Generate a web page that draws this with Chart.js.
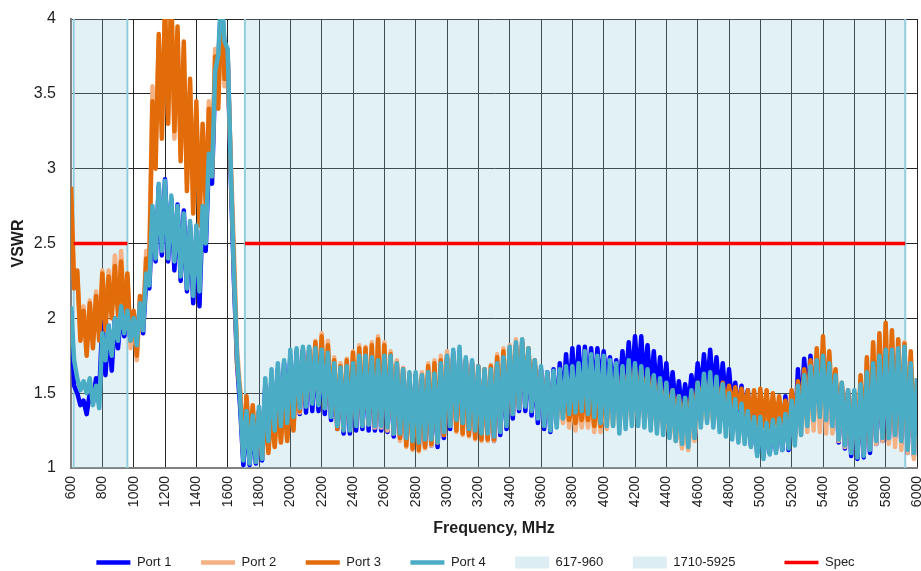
<!DOCTYPE html>
<html>
<head>
<meta charset="utf-8">
<script src="https://cdn.jsdelivr.net/npm/chart.js@4.4.1/dist/chart.umd.min.js"></script>
<style>
html,body{margin:0;padding:0;background:#fff;}
#wrap{width:921px;height:571px;}
</style>
</head>
<body>
<div id="wrap"><canvas id="c" width="921" height="571"></canvas></div>
<script>
// ---------- DATA ----------
const freq = [
600,620,640,660,680,700,720,740,760,780,
800,820,840,860,880,900,920,940,960,980,
1000,1020,1040,1060,1080,1100,1120,1140,1160,1180,
1200,1220,1240,1260,1280,1300,1320,1340,1360,1380,
1400,1420,1440,1460,1480,1500,1520,1540,1560,1580,
1600,1620,1640,1660,1680,1700,1720,1740,1760,1780,
1800,1820,1840,1860,1880,1900,1920,1940,1960,1980,
2000,2020,2040,2060,2080,2100,2120,2140,2160,2180,
2200,2220,2240,2260,2280,2300,2320,2340,2360,2380,
2400,2420,2440,2460,2480,2500,2520,2540,2560,2580,
2600,2620,2640,2660,2680,2700,2720,2740,2760,2780,
2800,2820,2840,2860,2880,2900,2920,2940,2960,2980,
3000,3020,3040,3060,3080,3100,3120,3140,3160,3180,
3200,3220,3240,3260,3280,3300,3320,3340,3360,3380,
3400,3420,3440,3460,3480,3500,3520,3540,3560,3580,
3600,3620,3640,3660,3680,3700,3720,3740,3760,3780,
3800,3820,3840,3860,3880,3900,3920,3940,3960,3980,
4000,4020,4040,4060,4080,4100,4120,4140,4160,4180,
4200,4220,4240,4260,4280,4300,4320,4340,4360,4380,
4400,4420,4440,4460,4480,4500,4520,4540,4560,4580,
4600,4620,4640,4660,4680,4700,4720,4740,4760,4780,
4800,4820,4840,4860,4880,4900,4920,4940,4960,4980,
5000,5020,5040,5060,5080,5100,5120,5140,5160,5180,
5200,5220,5240,5260,5280,5300,5320,5340,5360,5380,
5400,5420,5440,5460,5480,5500,5520,5540,5560,5580,
5600,5620,5640,5660,5680,5700,5720,5740,5760,5780,
5800,5820,5840,5860,5880,5900,5920,5940,5960,5980,
6000];

const port1 = [
2.05,1.55,1.50,1.42,1.45,1.36,1.50,1.44,1.60,1.50,
1.98,1.62,1.95,1.65,2.00,1.80,2.05,1.88,2.05,1.85,
2.02,1.80,2.10,1.90,2.25,2.20,2.70,2.38,2.88,2.42,
2.93,2.38,2.80,2.32,2.76,2.25,2.72,2.18,2.62,2.10,
2.58,2.08,2.70,2.45,3.05,2.90,3.60,3.70,4.15,3.80,
3.75,2.95,2.25,1.70,1.40,1.02,1.35,1.02,1.30,1.03,
1.38,1.05,1.55,1.15,1.62,1.22,1.66,1.26,1.70,1.28,
1.75,1.32,1.78,1.36,1.79,1.37,1.79,1.38,1.78,1.38,
1.77,1.36,1.74,1.32,1.68,1.26,1.65,1.23,1.66,1.23,
1.68,1.25,1.72,1.26,1.73,1.25,1.72,1.25,1.70,1.25,
1.72,1.24,1.72,1.21,1.68,1.20,1.64,1.18,1.62,1.16,
1.62,1.15,1.60,1.15,1.62,1.15,1.62,1.14,1.68,1.20,
1.73,1.26,1.77,1.28,1.78,1.25,1.72,1.24,1.70,1.22,
1.66,1.21,1.64,1.20,1.64,1.18,1.68,1.22,1.72,1.26,
1.78,1.33,1.82,1.38,1.84,1.38,1.78,1.35,1.70,1.30,
1.66,1.26,1.64,1.24,1.66,1.30,1.70,1.40,1.76,1.45,
1.80,1.48,1.81,1.50,1.81,1.50,1.80,1.48,1.80,1.52,
1.78,1.55,1.74,1.52,1.72,1.52,1.78,1.55,1.84,1.56,
1.88,1.57,1.88,1.55,1.82,1.52,1.78,1.48,1.74,1.46,
1.70,1.42,1.64,1.40,1.58,1.38,1.56,1.40,1.62,1.45,
1.70,1.50,1.76,1.52,1.79,1.50,1.74,1.48,1.70,1.45,
1.66,1.42,1.57,1.36,1.55,1.30,1.52,1.15,1.45,1.10,
1.34,1.08,1.32,1.10,1.34,1.12,1.38,1.12,1.48,1.12,
1.50,1.20,1.66,1.35,1.73,1.42,1.75,1.40,1.72,1.35,
1.70,1.30,1.66,1.26,1.60,1.17,1.55,1.13,1.50,1.08,
1.50,1.06,1.54,1.07,1.62,1.10,1.68,1.16,1.72,1.18,
1.76,1.18,1.76,1.20,1.77,1.16,1.78,1.10,1.68,1.08,
1.55];

const port2 = [
2.85,2.25,2.30,1.90,2.08,1.80,2.12,1.85,2.18,1.90,
2.32,1.95,2.32,2.05,2.42,2.08,2.45,2.05,2.28,1.80,
2.00,1.72,2.10,1.98,2.45,2.45,3.55,3.15,3.85,3.30,
4.05,3.35,4.15,3.20,3.90,3.10,3.80,2.90,3.55,2.75,
3.40,2.68,3.25,2.82,3.45,3.00,3.80,3.45,4.10,3.55,
3.72,3.05,2.45,1.80,1.52,1.10,1.45,1.12,1.40,1.08,
1.36,1.07,1.38,1.12,1.41,1.15,1.44,1.18,1.47,1.20,
1.53,1.27,1.64,1.37,1.74,1.44,1.79,1.46,1.85,1.44,
1.90,1.40,1.85,1.37,1.74,1.27,1.70,1.27,1.73,1.30,
1.78,1.31,1.82,1.29,1.81,1.29,1.84,1.27,1.88,1.27,
1.84,1.25,1.78,1.23,1.72,1.18,1.67,1.14,1.63,1.12,
1.60,1.11,1.64,1.13,1.70,1.15,1.72,1.17,1.75,1.22,
1.78,1.28,1.76,1.24,1.74,1.22,1.72,1.21,1.70,1.19,
1.68,1.18,1.66,1.18,1.69,1.18,1.76,1.25,1.80,1.31,
1.82,1.36,1.86,1.40,1.86,1.44,1.80,1.40,1.70,1.36,
1.62,1.32,1.60,1.30,1.56,1.31,1.50,1.30,1.46,1.27,
1.45,1.25,1.46,1.27,1.47,1.27,1.46,1.24,1.47,1.24,
1.48,1.26,1.50,1.28,1.52,1.28,1.52,1.30,1.50,1.33,
1.48,1.33,1.46,1.32,1.44,1.30,1.42,1.28,1.40,1.26,
1.38,1.22,1.34,1.18,1.30,1.13,1.28,1.12,1.34,1.18,
1.42,1.30,1.45,1.32,1.44,1.30,1.45,1.30,1.44,1.28,
1.42,1.25,1.40,1.22,1.38,1.20,1.36,1.18,1.34,1.15,
1.34,1.14,1.32,1.15,1.34,1.17,1.35,1.18,1.36,1.16,
1.42,1.18,1.50,1.22,1.58,1.24,1.64,1.25,1.70,1.24,
1.74,1.23,1.68,1.23,1.60,1.18,1.55,1.14,1.50,1.12,
1.50,1.10,1.60,1.11,1.72,1.13,1.82,1.16,1.88,1.18,
1.95,1.16,1.90,1.14,1.85,1.12,1.84,1.10,1.75,1.06,
1.45];

const port3 = [
2.88,2.20,2.32,1.85,2.05,1.75,2.10,1.80,2.15,1.85,
2.30,1.92,2.28,2.00,2.35,2.02,2.38,2.00,2.30,1.85,
2.05,1.75,2.15,1.95,2.40,2.35,3.45,3.00,3.90,3.20,
4.10,3.30,4.20,3.25,3.95,3.05,3.85,2.85,3.60,2.70,
3.45,2.62,3.30,2.75,3.40,2.95,3.75,3.40,4.15,3.60,
3.75,3.00,2.35,1.70,1.50,1.10,1.48,1.15,1.42,1.10,
1.38,1.08,1.39,1.10,1.40,1.14,1.45,1.17,1.48,1.18,
1.52,1.25,1.66,1.38,1.75,1.45,1.80,1.47,1.84,1.45,
1.88,1.41,1.82,1.38,1.72,1.26,1.68,1.26,1.72,1.30,
1.77,1.32,1.80,1.30,1.80,1.30,1.82,1.28,1.86,1.30,
1.82,1.30,1.76,1.25,1.70,1.20,1.66,1.15,1.62,1.13,
1.58,1.12,1.62,1.14,1.68,1.16,1.70,1.17,1.72,1.22,
1.74,1.30,1.74,1.25,1.74,1.23,1.72,1.22,1.70,1.20,
1.68,1.19,1.66,1.19,1.68,1.19,1.74,1.26,1.78,1.32,
1.80,1.37,1.82,1.42,1.84,1.47,1.80,1.44,1.72,1.40,
1.64,1.36,1.62,1.35,1.58,1.36,1.52,1.36,1.48,1.32,
1.46,1.30,1.47,1.32,1.50,1.32,1.49,1.28,1.50,1.28,
1.52,1.32,1.57,1.36,1.62,1.38,1.66,1.42,1.68,1.44,
1.67,1.45,1.66,1.44,1.64,1.43,1.61,1.40,1.57,1.38,
1.55,1.36,1.52,1.34,1.48,1.30,1.46,1.32,1.50,1.36,
1.57,1.40,1.59,1.42,1.58,1.40,1.57,1.42,1.57,1.41,
1.55,1.40,1.54,1.40,1.53,1.36,1.52,1.32,1.52,1.30,
1.53,1.28,1.52,1.27,1.50,1.30,1.48,1.30,1.45,1.29,
1.52,1.30,1.58,1.38,1.66,1.41,1.72,1.40,1.80,1.38,
1.88,1.40,1.78,1.40,1.66,1.26,1.57,1.20,1.52,1.16,
1.50,1.12,1.62,1.12,1.74,1.15,1.84,1.22,1.90,1.23,
1.97,1.23,1.92,1.24,1.86,1.20,1.83,1.16,1.78,1.20,
1.60];

const port4 = [
2.08,1.72,1.60,1.52,1.58,1.50,1.60,1.42,1.55,1.40,
1.90,1.72,1.95,1.75,2.00,1.85,2.08,1.90,2.05,1.85,
2.00,1.82,2.10,1.92,2.30,2.22,2.75,2.40,2.90,2.45,
2.92,2.40,2.82,2.38,2.75,2.28,2.70,2.20,2.65,2.15,
2.62,2.18,2.75,2.50,3.10,2.95,3.65,3.76,4.20,3.85,
3.80,3.00,2.30,1.75,1.45,1.05,1.38,1.03,1.35,1.04,
1.41,1.06,1.60,1.18,1.66,1.25,1.70,1.28,1.72,1.30,
1.79,1.34,1.80,1.40,1.81,1.41,1.81,1.43,1.80,1.42,
1.79,1.40,1.77,1.34,1.70,1.28,1.67,1.25,1.68,1.25,
1.70,1.28,1.75,1.28,1.75,1.29,1.74,1.28,1.72,1.28,
1.75,1.27,1.75,1.23,1.70,1.23,1.66,1.20,1.64,1.18,
1.64,1.17,1.62,1.19,1.64,1.19,1.63,1.17,1.70,1.24,
1.75,1.28,1.79,1.32,1.81,1.30,1.74,1.26,1.72,1.25,
1.68,1.23,1.66,1.23,1.66,1.21,1.70,1.24,1.74,1.28,
1.81,1.36,1.84,1.40,1.86,1.41,1.80,1.38,1.72,1.33,
1.68,1.28,1.64,1.25,1.65,1.27,1.66,1.33,1.68,1.36,
1.68,1.37,1.70,1.38,1.78,1.36,1.76,1.34,1.75,1.30,
1.75,1.28,1.72,1.28,1.70,1.23,1.68,1.26,1.72,1.28,
1.70,1.28,1.68,1.27,1.66,1.25,1.62,1.23,1.60,1.22,
1.57,1.20,1.52,1.18,1.48,1.16,1.47,1.14,1.52,1.20,
1.57,1.27,1.63,1.30,1.64,1.27,1.61,1.24,1.56,1.21,
1.50,1.19,1.46,1.17,1.43,1.16,1.38,1.14,1.34,1.08,
1.34,1.06,1.30,1.09,1.32,1.10,1.33,1.12,1.36,1.13,
1.45,1.15,1.55,1.22,1.62,1.28,1.68,1.32,1.72,1.34,
1.75,1.32,1.70,1.28,1.62,1.19,1.57,1.15,1.52,1.10,
1.52,1.07,1.56,1.08,1.64,1.12,1.70,1.18,1.75,1.20,
1.79,1.20,1.79,1.22,1.80,1.18,1.81,1.12,1.70,1.10,
1.60];

// bands and spec limit
const bandNames = ['617-960', '1710-5925'];
const bandStart = [617, 1710];
const bandEnd   = [960, 5925];
const specLimit = 2.5;

// axis ticks
const xTickValues = [600,800,1000,1200,1400,1600,1800,2000,2200,2400,2600,2800,3000,3200,3400,3600,3800,4000,4200,4400,4600,4800,5000,5200,5400,5600,5800,6000];
const yTickValues = [1,1.5,2,2.5,3,3.5,4];
const yMin = 1, yMax = 4;

[port1, port2, port3, port4].forEach((a, k) => {
  if (a.length !== freq.length) throw new Error('length mismatch port' + (k+1) + ': ' + a.length + ' vs ' + freq.length);
});

// ---------- CHART ----------
const FONT = "'Liberation Sans', Arial, sans-serif";
const TXT = '#1e1e1e';
const pts = arr => freq.map((f, i) => ({x: f, y: arr[i]}));

function portDs(label, arr, color, order) {
  return {
    label, data: pts(arr), borderColor: color, backgroundColor: color,
    borderWidth: 4.5, pointRadius: 0, pointHoverRadius: 0, tension: 0,
    pointStyle: 'line', fill: false, order, borderJoinStyle: 'round'
  };
}
const BAND_FILL = 'rgba(139,199,219,0.25)';
const BAND_EDGE = '#93cddd';
function bandDs(k, order) {
  return {
    label: bandNames[k],
    isBand: true,
    data: [
      {x: bandStart[k], y: yMin}, {x: bandStart[k], y: yMax},
      {x: bandEnd[k], y: yMax}, {x: bandEnd[k], y: yMin}
    ],
    borderColor: BAND_EDGE, backgroundColor: BAND_FILL, borderWidth: 2,
    pointRadius: 0, pointHoverRadius: 0, pointStyle: 'rect',
    fill: 'start', order,
    segment: { borderColor: c => (c.p0.parsed.y === yMax && c.p1.parsed.y === yMax) ? 'rgba(0,0,0,0)' : BAND_EDGE }
  };
}
const specData = [];
bandStart.forEach((s, k) => {
  if (k > 0) specData.push({x: (bandEnd[k-1] + s) / 2, y: null});
  specData.push({x: s, y: specLimit}, {x: bandEnd[k], y: specLimit});
});

const datasets = [
  portDs('Port 1', port1, '#0000ff', 5),
  portDs('Port 2', port2, '#f4b183', 4),
  portDs('Port 3', port3, '#e36c0a', 3),
  portDs('Port 4', port4, '#4bacc6', 2),
  bandDs(0, 7),
  bandDs(1, 6),
  { label: 'Spec', data: specData, borderColor: '#ff0000', backgroundColor: '#ff0000',
    borderWidth: 3.5, pointRadius: 0, pointHoverRadius: 0, pointStyle: 'line',
    spanGaps: false, fill: false, order: 1 }
];

const LEFT_PAD = 34;
new Chart(document.getElementById('c'), {
  type: 'line',
  data: { datasets },
  options: {
    responsive: false, animation: false, devicePixelRatio: 1,
    events: [],
    layout: { padding: { left: LEFT_PAD, right: 4, top: 19, bottom: -8 } },
    scales: {
      x: {
        type: 'linear', min: 600, max: 6000,
        afterBuildTicks: s => { s.ticks = xTickValues.map(v => ({value: v})); },
        afterFit: s => { s.height = 78; s.paddingLeft = 0; s.paddingRight = 0; },
        ticks: { autoSkip: false, maxRotation: 90, minRotation: 90, padding: 8, color: TXT,
                 font: { family: FONT, size: 14 }, callback: v => String(v) },
        grid: { color: '#262626', lineWidth: 1, drawTicks: false },
        border: { color: '#808080', width: 2 },
        title: { display: true, text: 'Frequency, MHz', color: TXT,
                 font: { family: FONT, size: 16, weight: 'bold' }, padding: { top: 0, bottom: 8 } }
      },
      y: {
        type: 'linear', min: yMin, max: yMax,
        afterBuildTicks: s => { s.ticks = yTickValues.map(v => ({value: v})); },
        afterFit: s => { s.width = 71 - LEFT_PAD; s.paddingTop = 0; s.paddingBottom = 0; },
        ticks: { padding: 15, color: TXT, font: { family: FONT, size: 16 }, callback: v => String(v) },
        grid: { color: '#262626', lineWidth: 1, drawTicks: false },
        border: { color: '#808080', width: 2 },
        title: { display: true, text: 'VSWR', color: TXT,
                 font: { family: FONT, size: 16, weight: 'bold' }, padding: { top: 9 - LEFT_PAD, bottom: 0 } }
      }
    },
    plugins: {
      tooltip: { enabled: false },
      legend: {
        position: 'bottom',
        labels: {
          usePointStyle: true, pointStyleWidth: 34, boxHeight: 12,
          padding: 10, color: TXT, font: { family: FONT, size: 13 },
          sort: (a, b) => a.datasetIndex - b.datasetIndex,
          generateLabels: chart => {
            const items = Chart.defaults.plugins.legend.labels.generateLabels(chart);
            items.forEach(it => {
              const ds = chart.data.datasets[it.datasetIndex];
              if (ds.isBand) { it.lineWidth = 0; it.strokeStyle = 'rgba(0,0,0,0)'; it.fillStyle = '#dcedf3'; }
              if (it.text === '1710-5925') it.text = it.text + '\u2003\u2003\u2003';
              else if (it.text !== 'Spec') it.text = it.text + '\u2003\u2002';
            });
            return items;
          }
        }
      }
    }
  }
});
</script>
</body>
</html>
